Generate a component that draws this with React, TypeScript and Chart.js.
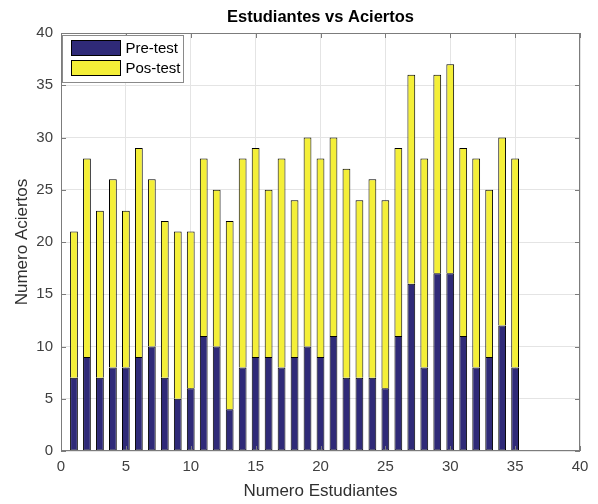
import React, { useEffect, useRef } from "react";
import { Chart, registerables } from "chart.js";

Chart.register(...registerables);

const chartTitle = "Estudiantes vs Aciertos";
const xAxisTitle = "Numero Estudiantes";
const yAxisTitle = "Numero Aciertos";
const seriesNames = ["Pre-test", "Pos-test"];

const students = [
  1, 2, 3, 4, 5, 6, 7, 8, 9, 10, 11, 12, 13, 14, 15, 16, 17, 18, 19, 20, 21, 22, 23, 24, 25, 26, 27, 28, 29,
  30, 31, 32, 33, 34, 35,
];
const preTest = [
  7, 9, 7, 8, 8, 9, 10, 7, 5, 6, 11, 10, 4, 8, 9, 9, 8, 9, 10, 9, 11, 7, 7, 7, 6, 11, 16, 8, 17, 17, 11, 8, 9,
  12, 8,
];
const posTest = [
  14, 19, 16, 18, 15, 20, 16, 15, 16, 15, 17, 15, 18, 20, 20, 16, 20, 15, 20, 19, 19, 20, 17, 19, 18, 18, 20,
  20, 19, 20, 18, 20, 16, 18, 20,
];
const xTicks = [0, 5, 10, 15, 20, 25, 30, 35, 40];
const yTicks = [0, 5, 10, 15, 20, 25, 30, 35, 40];

const FONT = '"Liberation Sans", Arial, Helvetica, sans-serif';
const NAVY = "#2f2a78";
const YELLOW = "#f4ef38";
const AXIS = "#7c7c7c";

export default function App() {
  const ref = useRef<HTMLCanvasElement>(null);

  useEffect(() => {
    const canvas = ref.current;
    if (!canvas) return;

    const chrome = {
      id: "matlabChrome",
      afterDatasetsDraw(chart: any) {
        const { ctx, chartArea: a, scales } = chart;
        ctx.save();
        ctx.strokeStyle = AXIS;
        ctx.lineWidth = 1;
        ctx.beginPath();
        for (const v of xTicks) {
          const px = Math.round(scales.x.getPixelForValue(v)) + 0.5;
          ctx.moveTo(px, a.bottom);
          ctx.lineTo(px, a.bottom - 5);
          ctx.moveTo(px, a.top);
          ctx.lineTo(px, a.top + 5);
        }
        for (const v of yTicks) {
          const py = Math.round(scales.y.getPixelForValue(v)) + 0.5;
          ctx.moveTo(a.left, py);
          ctx.lineTo(a.left + 5, py);
          ctx.moveTo(a.right, py);
          ctx.lineTo(a.right - 5, py);
        }
        ctx.stroke();
        ctx.strokeRect(Math.round(a.left) + 0.5, Math.round(a.top) + 0.5, Math.round(a.width) - 1, Math.round(a.height) - 1);
        ctx.restore();
      },
      afterDraw(chart: any) {
        const { ctx, chartArea: a } = chart;
        ctx.save();
        // title
        ctx.fillStyle = "#000";
        ctx.font = `bold 16.5px ${FONT}`;
        ctx.textAlign = "center";
        ctx.textBaseline = "middle";
        ctx.fillText(chartTitle, (a.left + a.right) / 2, 17);
        // legend
        const bx = Math.round(a.left) + 1.5;
        const by = Math.round(a.top) + 2.5;
        const bw = 121;
        const bh = 47;
        ctx.fillStyle = "#fff";
        ctx.fillRect(bx, by, bw, bh);
        ctx.strokeStyle = "#8a8a8a";
        ctx.lineWidth = 1;
        ctx.strokeRect(bx, by, bw, bh);
        const colors = [NAVY, YELLOW];
        ctx.font = `15px ${FONT}`;
        ctx.textAlign = "left";
        for (let i = 0; i < seriesNames.length; i++) {
          const sy = by + 5 + i * 20;
          ctx.fillStyle = colors[i];
          ctx.fillRect(bx + 9, sy, 49, 15);
          ctx.strokeStyle = "#000";
          ctx.strokeRect(bx + 9, sy, 49, 15);
          ctx.fillStyle = "#000";
          ctx.fillText(seriesNames[i], bx + 63, sy + 8);
        }
        ctx.restore();
      },
    };

    const chart = new Chart(canvas, {
      type: "bar",
      data: {
        datasets: [
          {
            label: seriesNames[0],
            data: students.map((s, i) => ({ x: s, y: preTest[i] })),
            backgroundColor: NAVY,
            borderColor: "#000",
            borderWidth: 1,
            borderSkipped: false,
            barPercentage: 0.6,
            categoryPercentage: 1,
          },
          {
            label: seriesNames[1],
            data: students.map((s, i) => ({ x: s, y: posTest[i] })),
            backgroundColor: YELLOW,
            borderColor: "#000",
            borderWidth: 1,
            borderSkipped: "bottom",
            barPercentage: 0.6,
            categoryPercentage: 1,
          },
        ],
      },
      options: {
        responsive: false,
        animation: false,
        layout: { padding: { top: 33, right: 18, left: 0, bottom: 0 } },
        plugins: {
          legend: { display: false },
          title: { display: false },
          tooltip: { enabled: false },
        },
        scales: {
          x: {
            type: "linear",
            min: 0,
            max: 40,
            stacked: true,
            offset: false,
            grid: { offset: false, color: "#e4e4e4", drawTicks: false },
            border: { display: false },
            ticks: {
              stepSize: 5,
              padding: 7,
              color: "#404040",
              font: { family: FONT, size: 15 },
              maxRotation: 0,
              autoSkip: false,
            },
            title: {
              display: true,
              text: xAxisTitle,
              color: "#303030",
              font: { family: FONT, size: 17 },
              padding: { top: 0, bottom: 2 },
            },
            afterFit: (s: any) => {
              s.height = 53;
            },
          },
          y: {
            type: "linear",
            min: 0,
            max: 40,
            stacked: true,
            grid: { color: "#e4e4e4", drawTicks: false },
            border: { display: false },
            ticks: {
              stepSize: 5,
              padding: 8,
              color: "#404040",
              font: { family: FONT, size: 15 },
            },
            title: {
              display: true,
              text: yAxisTitle,
              color: "#303030",
              font: { family: FONT, size: 17 },
              padding: { top: 12, bottom: 0 },
            },
            afterFit: (s: any) => {
              s.width = 61;
            },
          },
        },
      } as any,
      plugins: [chrome],
    });

    return () => chart.destroy();
  }, []);

  return (
    <div style={{ position: "fixed", left: 0, top: 0, width: 598, height: 504, background: "#fff" }}>
      <canvas ref={ref} width={598} height={504} style={{ width: 598, height: 504, display: "block" }} />
    </div>
  );
}
